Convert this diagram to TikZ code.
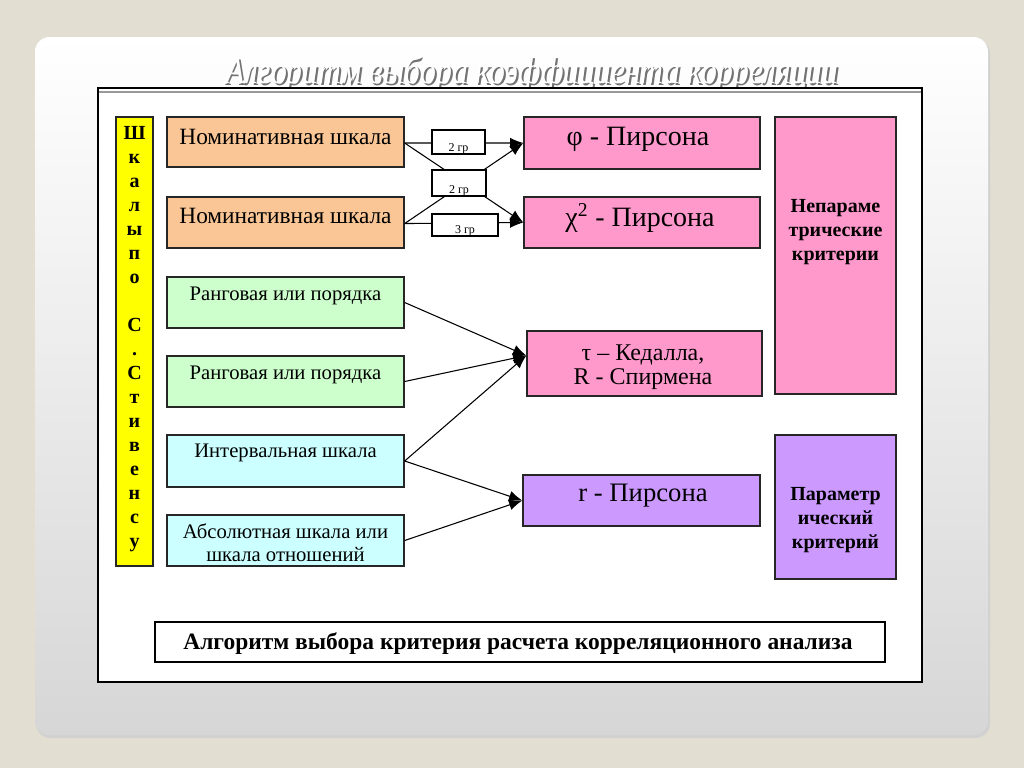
\documentclass[tikz,border=0pt]{standalone}
\usepackage{fontspec}
\setmainfont{Liberation Serif}
\newfontfamily\tnr{Liberation Serif}
\usepackage{graphicx}
\usetikzlibrary{arrows.meta,fit,calc}
\definecolor{bg}{RGB}{227,222,210}
\definecolor{peach}{RGB}{250,198,150}
\definecolor{lgreen}{RGB}{204,255,204}
\definecolor{lcyan}{RGB}{204,255,255}
\definecolor{pinkc}{RGB}{255,153,204}
\definecolor{purp}{RGB}{204,153,255}
\definecolor{yel}{RGB}{255,255,0}
\newcommand{\myfs}[2]{\tnr\fontsize{#1}{#2}\selectfont}
\begin{document}
\begin{tikzpicture}[x=0.75pt,y=-0.75pt,
  box/.style={draw=black!85, line width=1pt, inner sep=0pt},
  lbl/.style={draw=black, fill=white, line width=0.8pt, inner sep=0pt},
  conn/.style={line width=0.8pt, -{Latex[length=10pt,width=8pt]}},
  lefttxt/.style={font=\myfs{15.5pt}{17pt}, align=center},
  restxt/.style={font=\myfs{20pt}{18pt}, align=center},
  cattxt/.style={font=\myfs{15pt}{18pt}\bfseries, align=center},
  smalltxt/.style={font=\myfs{9pt}{10pt}},
]
% background and card
\fill[bg] (0,0) rectangle (1024,768);
\useasboundingbox (0,0) rectangle (1024,768);
\fill[black!18, rounded corners=11pt] (36,39) rectangle (990,738);
\shade[rounded corners=11pt, top color=white, middle color=white!97!black, bottom color=black!16] (35,37) rectangle (988,735);
% title
\node[anchor=base, text=black!55] (titleS) at (534,85) {\myfs{29pt}{30pt}\itshape\scalebox{0.82}[1]{Алгоритм выбора коэффициента корреляции}};
\node[anchor=base, text=white] (title) at (532,83) {\myfs{29pt}{30pt}\itshape\scalebox{0.82}[1]{Алгоритм выбора коэффициента корреляции}};
% inner image frame
\fill[white] (98,88) rectangle (922,682);
\draw[line width=1.5pt] (98,88) rectangle (922,682);
\draw[line width=1pt, black!40] (99,92) -- (921,92);
% yellow column
\node[box, fill=yel, fit={(116,117) (153,566)}] (yc) {};
\node[font=\myfs{15pt}{18pt}\bfseries, align=center] (yct) at (134.5,339) {Ш\\к\\а\\л\\ы\\п\\о\\[0pt]\strut\\С\\.\\С\\т\\и\\в\\е\\н\\с\\у};
% left boxes
\node[box, fill=peach, fit={(167,117) (404,167)}] (n1) {};
\node[box, fill=peach, fit={(167,197) (404,248)}] (n2) {};
\node[box, fill=lgreen, fit={(167,277) (404,328)}] (n3) {};
\node[box, fill=lgreen, fit={(167,356) (404,407)}] (n4) {};
\node[box, fill=lcyan, fit={(167,435) (404,487)}] (n5) {};
\node[box, fill=lcyan, fit={(167,515) (404,566)}] (n6) {};
\node[lefttxt, font=\myfs{17.5pt}{17pt}] (n1t) at (285.5,137) {Номинативная шкала};
\node[lefttxt, font=\myfs{17.5pt}{17pt}] (n2t) at (285.5,216) {Номинативная шкала};
\node[lefttxt] (n3t) at (285.5,296) {Ранговая или порядка};
\node[lefttxt] (n4t) at (285.5,375) {Ранговая или порядка};
\node[lefttxt] (n5t) at (285.5,453) {Интервальная шкала};
\node[lefttxt] (n6t) at (285.5,543) {Абсолютная шкала или\\шкала отношений};
% result boxes
\node[box, fill=pinkc, fit={(524,117) (760,169)}] (phi) {};
\node[box, fill=pinkc, fit={(524,197) (760,248)}] (chi) {};
\node[box, fill=pinkc, fit={(527,331) (762,396)}] (tau) {};
\node[box, fill=purp, fit={(523,475) (760,526)}] (rp) {};
\node[restxt, font=\myfs{21pt}{18pt}] (phit) at (638,139) {φ - Пирсона};
\node[restxt, font=\myfs{21pt}{18pt}] (chit) at (640,218) {χ\textsuperscript{2} - Пирсона};
\node[restxt, font=\myfs{18pt}{18pt}] (taut) at (643,367) {τ – Кедалла,\\R - Спирмена};
\node[restxt] (rpt) at (643,496) {r - Пирсона};
% category boxes
\node[box, fill=pinkc, fit={(775,117) (896,394)}] (np) {};
\node[box, fill=purp, fit={(775,435) (896,579)}] (pa) {};
\node[cattxt] (npt) at (835.5,232) {Непараме\\трические\\критерии};
\node[cattxt] (pat) at (835.5,520) {Параметр\\ический\\критерий};
% caption
\node[box, draw=black, fill=white, fit={(155,622) (885,662)}] (cap) {};
\node[font=\myfs{17.6pt}{18pt}\bfseries] (capt) at (518,644) {Алгоритм выбора критерия расчета корреляционного анализа};
% connectors nominal
\coordinate (n1e) at ($(n1.north east)!0.52!(n1.south east)$);
\coordinate (n2e) at ($(n2.north east)!0.52!(n2.south east)$);
\draw[conn] (n1e) -- (phi.west);
\draw[conn] (n1e) -- (chi.west);
\draw[conn] (n2e) -- (phi.west);
\draw[conn] (n2e) -- (chi.west);
\node[lbl, fit={(432,130) (485,154)}] (g1) {};
\node[lbl, fit={(432,170) (486,196)}] (g2) {};
\node[lbl, fit={(432,214) (498,236)}] (g3) {};
\node[smalltxt, anchor=base] (g1t) at (458.5,151) {2 гр};
\node[smalltxt, anchor=base] (g2t) at (459,193) {2 гр};
\node[smalltxt, anchor=base] (g3t) at (465,233) {3 гр};
% connectors rank/interval
\coordinate (taui) at ($(tau.north west)!0.38!(tau.south west)$);
\draw[conn] (n3.east) -- (taui);
\draw[conn] (n4.east) -- (taui);
\draw[conn] (n5.east) -- (taui);
\draw[conn] (n5.east) -- (rp.west);
\draw[conn] (n6.east) -- (rp.west);
\end{tikzpicture}
\end{document}
